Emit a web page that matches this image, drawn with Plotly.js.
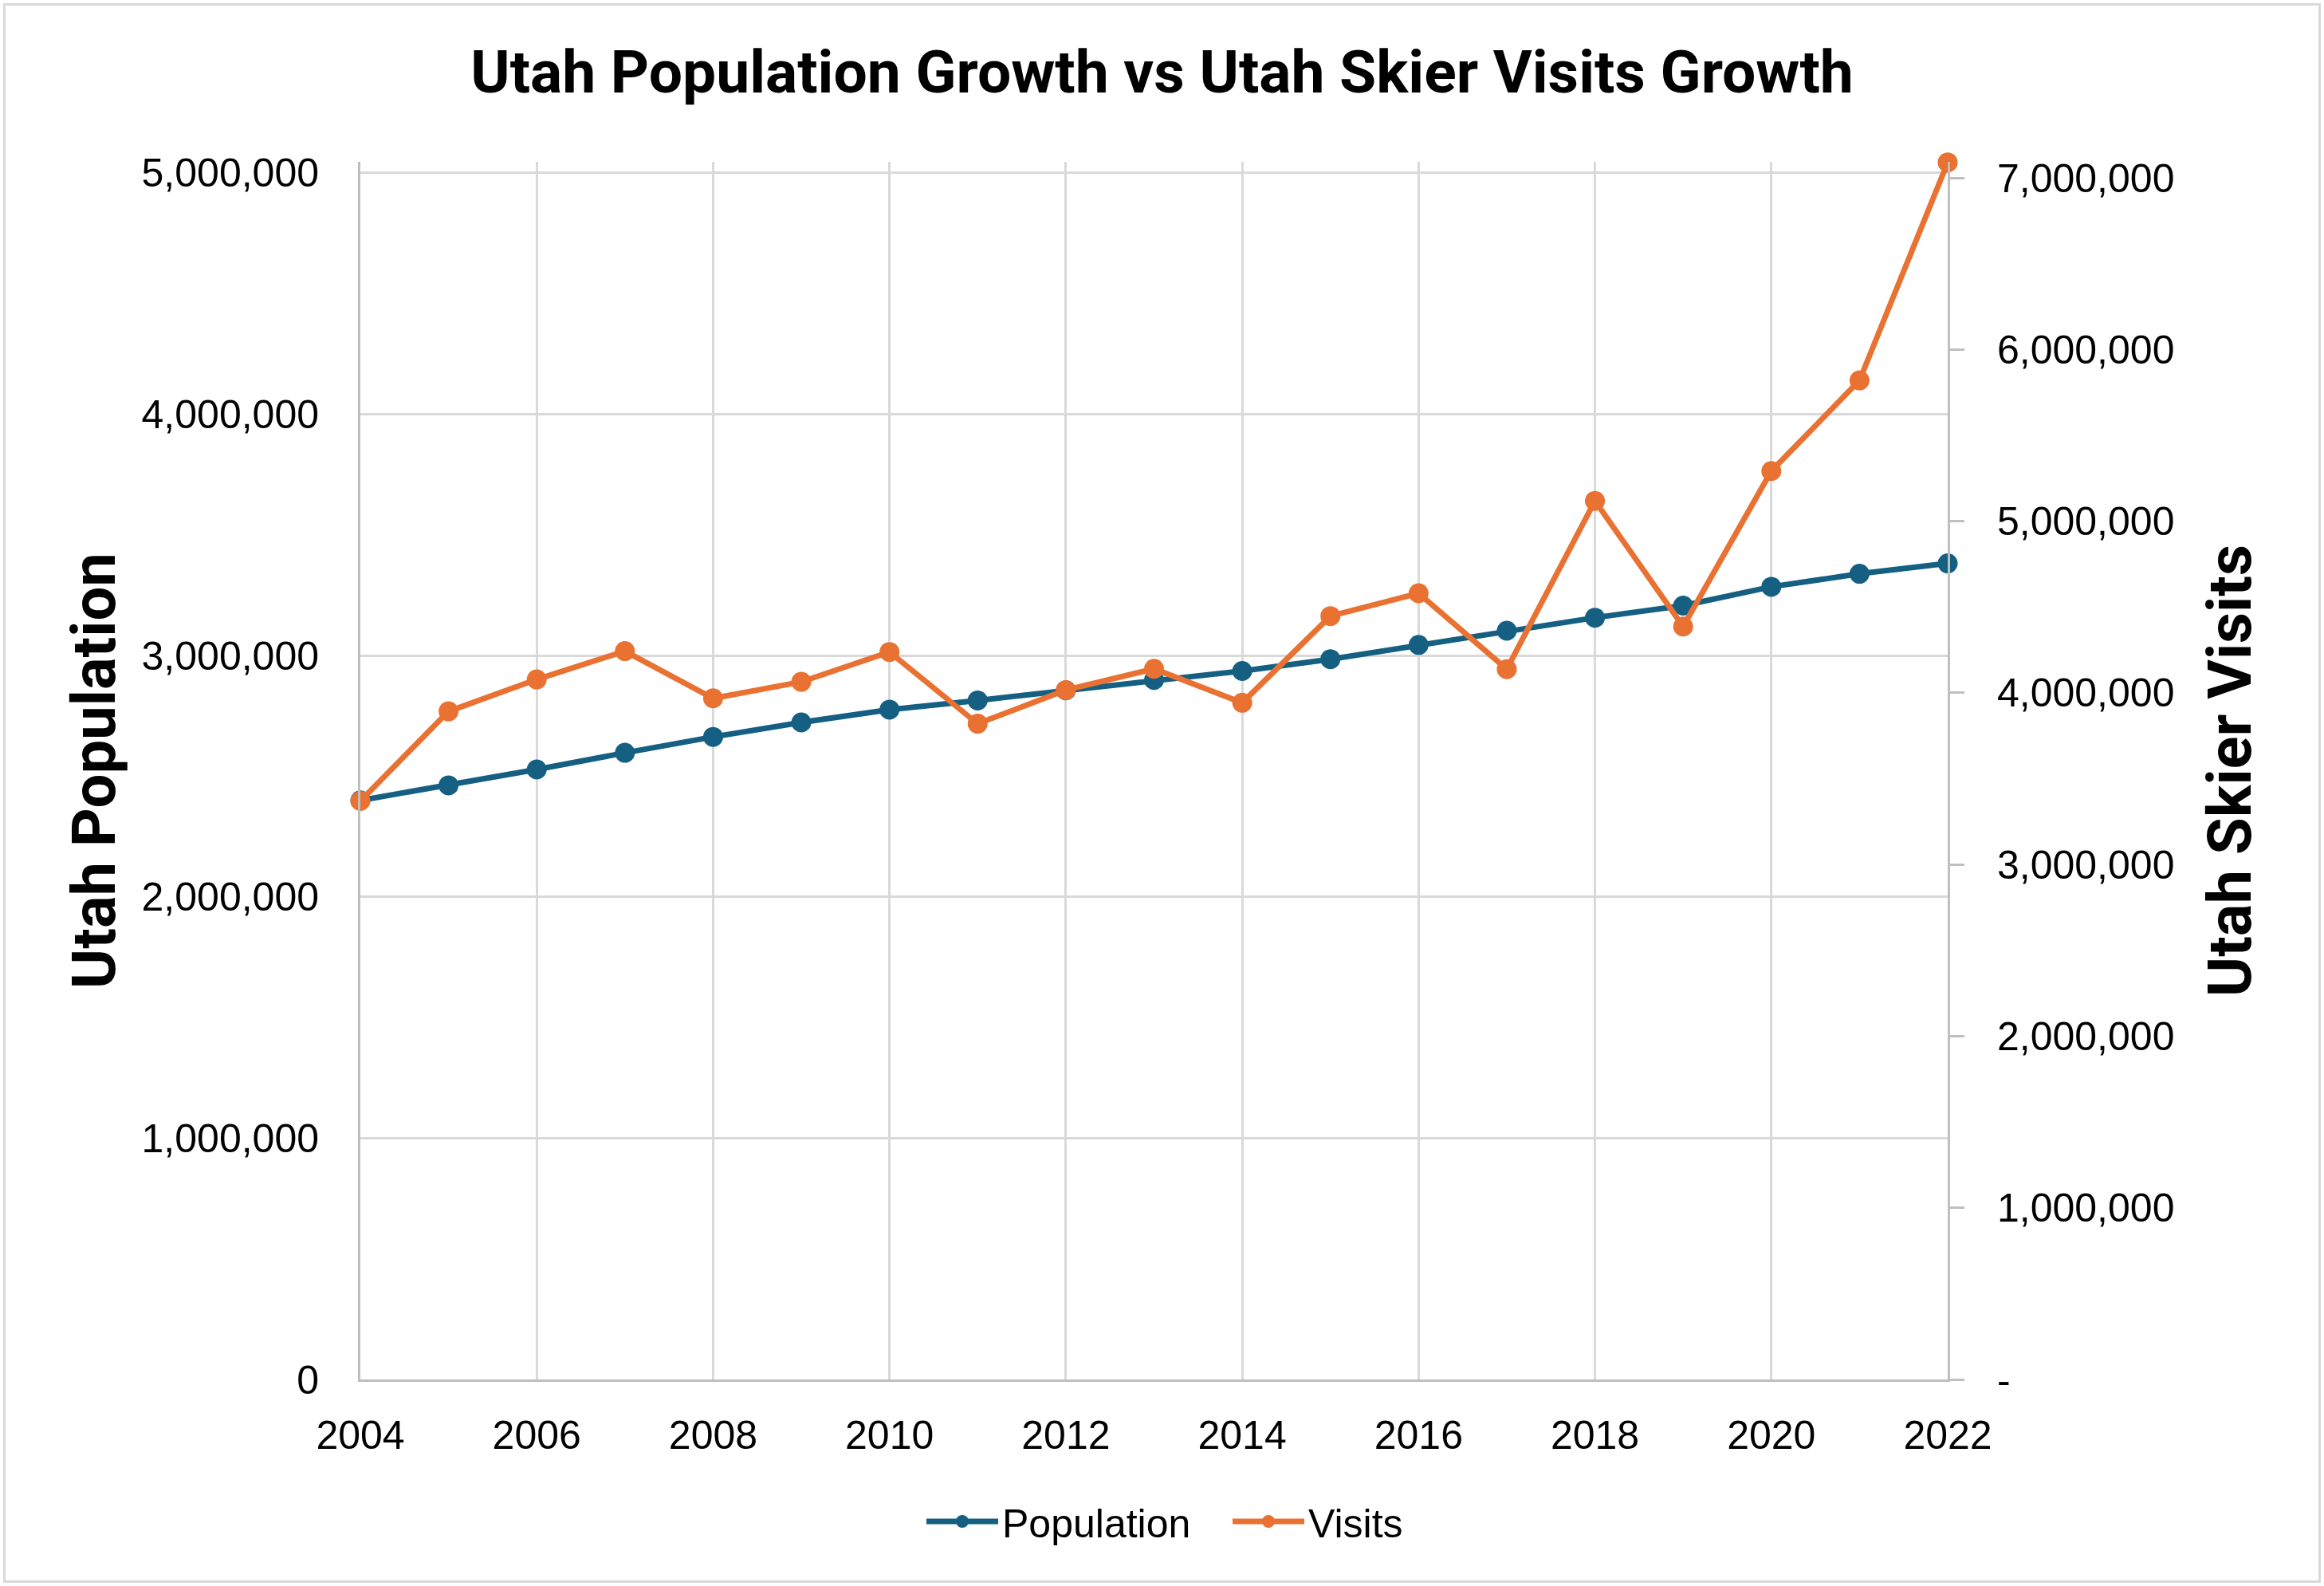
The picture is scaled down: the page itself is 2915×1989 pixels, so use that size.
<!DOCTYPE html>
<html>
<head>
<meta charset="utf-8">
<script src="https://cdn.plot.ly/plotly-3.0.1.min.js"></script>
<style>
  body { margin: 0; background: #fff; }
  #wrap { position: relative; width: 2915px; height: 1989px; }
  #chart { width: 2915px; height: 1989px; }
  #frame {
    position: absolute; left: 4px; top: 4px; width: 2907px; height: 1981px;
    border: 3px solid #d9d9d9; box-sizing: border-box; pointer-events: none;
  }
</style>
</head>
<body>
<div id="wrap">
  <div id="chart"></div>
  <div id="frame"></div>
</div>
<script>
const years = [2004, 2005, 2006, 2007, 2008, 2009, 2010, 2011, 2012, 2013,
  2014, 2015, 2016, 2017, 2018, 2019, 2020, 2021, 2022];

const population = [2400000, 2462000, 2528000, 2597000, 2663000, 2723000, 2776000,
  2814000, 2856000, 2899000, 2936000, 2985000, 3044000, 3103000, 3157000,
  3207000, 3285000, 3339000, 3382000];

const visits = [3370000, 3892000, 4078000, 4243000, 3968000, 4064000, 4238000,
  3820000, 4016000, 4140000, 3942000, 4447000, 4580000, 4138000, 5118000,
  4386000, 5292000, 5820000, 7090000];

const visitTickValues = [0, 1000000, 2000000, 3000000, 4000000, 5000000, 6000000, 7000000];
const visitTickLabels = ['-', '1,000,000', '2,000,000', '3,000,000', '4,000,000',
  '5,000,000', '6,000,000', '7,000,000'];

const blue = '#156082';
const orange = '#E97132';
const tickFont = { family: 'Liberation Sans, Arial, sans-serif', size: 50, color: '#000' };
const axisTitleFont = { family: 'Roboto, Liberation Sans, sans-serif', size: 76, color: '#000', weight: 700 };

const populationTrace = {
  x: years,
  y: population,
  name: 'Population',
  mode: 'lines+markers',
  line: { color: blue, width: 7 },
  marker: { color: blue, size: 25 },
  cliponaxis: false,
  hoverinfo: 'skip',
};

const visitsTrace = {
  x: years,
  y: visits,
  name: 'Visits',
  yaxis: 'y2',
  mode: 'lines+markers',
  line: { color: orange, width: 7 },
  marker: { color: orange, size: 25 },
  cliponaxis: false,
  hoverinfo: 'skip',
};

const layout = {
  width: 2915,
  height: 1989,
  paper_bgcolor: '#fff',
  plot_bgcolor: '#fff',
  margin: { l: 452, r: 472, t: 203, b: 259, autoexpand: false },
  title: {
    text: 'Utah Population Growth vs Utah Skier Visits Growth',
    font: { family: 'Roboto, Liberation Sans, sans-serif', size: 75, color: '#000', weight: 700 },
    xref: 'container', x: 0.5, xanchor: 'center',
    yref: 'container', y: 1 - 90 / 1989, yanchor: 'middle',
  },
  xaxis: {
    range: [2004, 2022],
    tick0: 2004,
    dtick: 2,
    showgrid: true,
    gridcolor: '#d9d9d9',
    gridwidth: 3,
    showline: true,
    linecolor: '#bfbfbf',
    linewidth: 3,
    zeroline: false,
    ticks: '',
    ticklabelstandoff: 24,
    tickfont: tickFont,
  },
  yaxis: {
    title: { text: 'Utah Population', font: axisTitleFont, standoff: 8 },
    range: [0, 5046000],
    dtick: 1000000,
    tickformat: ',d',
    showgrid: true,
    gridcolor: '#d9d9d9',
    gridwidth: 3,
    showline: true,
    linecolor: '#bfbfbf',
    linewidth: 3,
    zeroline: false,
    ticks: '',
    ticklabelstandoff: 39,
    tickfont: tickFont,
    automargin: false,
  },
  yaxis2: {
    title: { text: 'Utah Skier Visits', font: axisTitleFont, standoff: 44 },
    overlaying: 'y',
    side: 'right',
    range: [0, 7093000],
    tickvals: visitTickValues,
    ticktext: visitTickLabels,
    showgrid: false,
    showline: true,
    linecolor: '#bfbfbf',
    linewidth: 3,
    zeroline: false,
    ticks: 'outside',
    ticklen: 18,
    tickwidth: 3,
    tickcolor: '#bfbfbf',
    ticklabelstandoff: 31,
    tickfont: tickFont,
    automargin: false,
  },
  showlegend: true,
  legend: {
    orientation: 'h',
    xref: 'container', x: 1157 / 2915, xanchor: 'left',
    yref: 'container', y: 1 - 1908 / 1989, yanchor: 'middle',
    font: { family: 'Liberation Sans, Arial, sans-serif', size: 50, color: '#000' },
    itemwidth: 90,
    entrywidth: 279,
    entrywidthmode: 'pixels',
    bgcolor: 'rgba(0,0,0,0)',
  },
};

Plotly.newPlot('chart', [populationTrace, visitsTrace], layout, { staticPlot: true });
</script>
</body>
</html>
